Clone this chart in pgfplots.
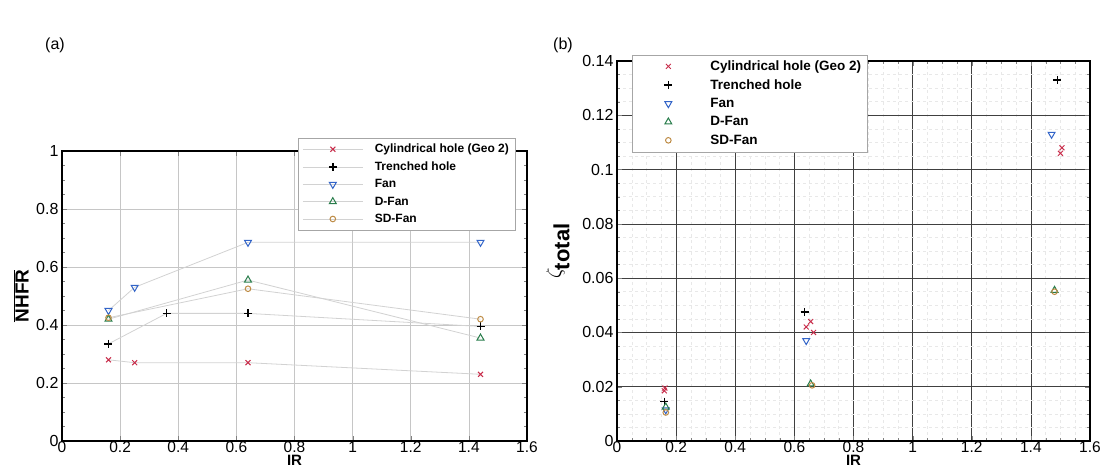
\documentclass[border=0pt]{standalone}
\usepackage{pgfplots}
\pgfplotsset{compat=1.18}
\usepackage{fontspec}
\setmainfont{Liberation Sans}

\definecolor{cyl}{RGB}{200,45,75}
\definecolor{fan}{RGB}{50,100,200}
\definecolor{dfan}{RGB}{40,125,75}
\definecolor{sdfan}{RGB}{190,140,70}

\pgfplotsset{
  panel/.style={
    scale only axis, anchor=south west,
    xmin=0, xmax=1.6,
    xtick={0,0.2,0.4,0.6,0.8,1,1.2,1.4,1.6},
    xticklabels={0,0.2,0.4,0.6,0.8,1,1.2,1.4,1.6},
    tick align=inside,
    tick label style={font=\fontsize{16}{16}\selectfont},
    xticklabel style={inner sep=0.5pt, font=\fontsize{15.5}{15.5}\selectfont},
    /pgf/number format/assume math mode=true,
    axis line style={line width=1.1pt},
    major tick length=5pt, minor tick length=3pt,
    grid=major,
    xlabel={\textbf{IR}},
    xlabel style={font=\fontsize{15}{15}\selectfont, inner sep=0pt, at={(axis description cs:0.5,0)}, anchor=center, yshift=-19.5pt},
    legend cell align=left,
  },
}

\begin{document}
\begin{tikzpicture}
\useasboundingbox (0pt,0pt) rectangle (1109pt,468pt);

% (a) NHFR
\begin{axis}[panel,
  at={(62pt,27pt)}, width=465pt, height=290pt,
  ymin=0, ymax=1,
  ytick={0,0.2,0.4,0.6,0.8,1},
  yticklabels={0,0.2,0.4,0.6,0.8,1},
  minor y tick num=3,
  major grid style={gray!45, line width=0.7pt},
  ylabel={$\overline{\mbox{\textbf{NHFR}}}$},
  ylabel style={font=\fontsize{19}{19}\selectfont, at={(axis description cs:-0.088,0.5)}, anchor=center},
  legend style={at={(0.508,1.045)}, anchor=north west, draw=gray!70, fill=white,
    font=\bfseries\fontsize{12}{13}\selectfont, row sep=3.5pt, inner sep=4pt},
  legend image code/.code={\draw[mark repeat=2,mark phase=2,#1] plot coordinates {(0pt,0pt) (30pt,0pt) (60pt,0pt)}; \path[draw=none] (0pt,0pt) -- (70pt,0pt);},
]
\addplot[gray!35, line width=0.8pt, mark=x, mark size=3.5pt, mark options={cyl, solid, line width=1pt}]
  coordinates {(0.16,0.28) (0.25,0.27) (0.64,0.27) (1.44,0.23)};
\addplot[gray!35, line width=0.8pt, mark=+, mark size=4pt, mark options={black, solid, line width=1.4pt}]
  coordinates {(0.16,0.335) (0.36,0.44) (0.64,0.44) (1.44,0.395)};
\addplot[gray!35, line width=0.8pt, mark=triangle, mark size=4pt, mark options={fan, solid, rotate=180, line width=1pt}]
  coordinates {(0.16,0.45) (0.25,0.53) (0.64,0.685) (1.44,0.685)};
\addplot[gray!35, line width=0.8pt, mark=triangle, mark size=4pt, mark options={dfan, solid, line width=1pt}]
  coordinates {(0.16,0.42) (0.64,0.555) (1.44,0.355)};
\addplot[gray!35, line width=0.8pt, mark=o, mark size=2.8pt, mark options={sdfan, solid, line width=1pt}]
  coordinates {(0.16,0.425) (0.64,0.525) (1.44,0.42)};
\legend{Cylindrical hole (Geo 2), Trenched hole, Fan, D-Fan, SD-Fan}
\end{axis}

% (b) zeta total
\begin{axis}[panel,
  at={(617pt,27pt)}, width=473pt, height=380pt,
  ymin=0, ymax=0.14,
  ytick={0,0.02,0.04,0.06,0.08,0.1,0.12,0.14},
  yticklabels={0,0.02,0.04,0.06,0.08,0.1,0.12,0.14},
  minor x tick num=3, minor y tick num=3,
  major grid style={black!75, line width=0.7pt},
  minor grid style={gray!18, dashed, line width=0.5pt},
  grid=both,
  ylabel={$\zeta_{\textbf{total}}$},
  ylabel style={font=\fontsize{22}{22}\selectfont, at={(axis description cs:-0.125,0.5)}, anchor=center},
  legend style={at={(0.032,1.017)}, anchor=north west, draw=gray!70, fill=white,
    font=\bfseries\fontsize{13.5}{14}\selectfont, row sep=3.5pt, inner sep=4pt},
  legend image code/.code={\draw[#1] plot coordinates {(32pt,0pt)}; \path[draw=none] (0pt,0pt) -- (72pt,0pt);},
]
\addplot[only marks, mark=x, mark size=3.5pt, mark options={cyl, line width=1pt}]
  coordinates {(0.16,0.0185) (0.162,0.0195) (0.64,0.042) (0.655,0.044) (0.665,0.040) (1.50,0.106) (1.505,0.108)};
\addplot[only marks, mark=+, mark size=4pt, mark options={black, line width=1.4pt}]
  coordinates {(0.16,0.0145) (0.635,0.0475) (1.49,0.133)};
\addplot[only marks, mark=triangle, mark size=4pt, mark options={fan, rotate=180, line width=1pt}]
  coordinates {(0.165,0.0115) (0.64,0.037) (1.47,0.113)};
\addplot[only marks, mark=triangle, mark size=4pt, mark options={dfan, line width=1pt}]
  coordinates {(0.165,0.0125) (0.655,0.021) (1.48,0.0555)};
\addplot[only marks, mark=o, mark size=2.8pt, mark options={sdfan, line width=1pt}]
  coordinates {(0.165,0.0105) (0.66,0.0205) (1.48,0.055)};
\legend{Cylindrical hole (Geo 2), Trenched hole, Fan, D-Fan, SD-Fan}
\end{axis}

\node[font=\fontsize{16}{16}\selectfont] at (55pt,423pt) {(a)};
\node[font=\fontsize{16}{16}\selectfont] at (563pt,423pt) {(b)};
\end{tikzpicture}
\end{document}
